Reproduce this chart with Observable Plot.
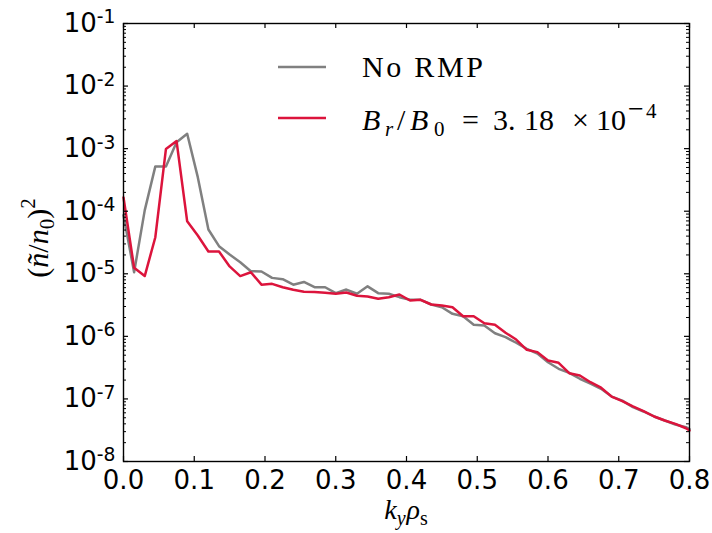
<!DOCTYPE html>
<html>
<head>
<meta charset="utf-8">
<script src="https://cdn.jsdelivr.net/npm/d3@7"></script>
<script src="https://cdn.jsdelivr.net/npm/@observablehq/plot@0.6"></script>
<style>
  html, body { margin: 0; padding: 0; background: #fff; }
  #chart { width: 712px; height: 533px; }
</style>
</head>
<body>
<div id="chart"></div>
<script>
// k_y rho_s sample positions
const ky = [0, 0.015, 0.03, 0.045, 0.06, 0.075, 0.09, 0.105, 0.12, 0.135, 0.15, 0.165, 0.18, 0.195,
  0.21, 0.225, 0.24, 0.255, 0.27, 0.285, 0.3, 0.315, 0.33, 0.345, 0.36, 0.375, 0.39, 0.405, 0.42,
  0.435, 0.45, 0.465, 0.48, 0.495, 0.51, 0.525, 0.54, 0.555, 0.57, 0.585, 0.6, 0.615, 0.63, 0.645,
  0.66, 0.675, 0.69, 0.705, 0.72, 0.735, 0.75, 0.765, 0.78, 0.795, 0.8];

// No RMP
const noRmp = [8.6e-5, 1.06e-5, 1.03e-4, 5.2e-4, 5.2e-4, 1.27e-3, 1.73e-3, 3.5e-4, 5.1e-5, 2.76e-5,
  2.03e-5, 1.53e-5, 1.10e-5, 1.09e-5, 8.6e-6, 8.2e-6, 6.7e-6, 7.4e-6, 6.1e-6, 6.1e-6,
  4.9e-6, 5.6e-6, 4.8e-6, 6.3e-6, 4.9e-6, 4.8e-6, 4.23e-6, 3.84e-6, 3.84e-6, 3.23e-6,
  2.92e-6, 2.29e-6, 2.10e-6, 1.53e-6, 1.49e-6, 1.12e-6, 9.7e-7, 7.9e-7, 6.3e-7, 5.3e-7,
  3.86e-7, 3.03e-7, 2.61e-7, 2.10e-7, 1.75e-7, 1.45e-7, 1.09e-7, 9.4e-8, 7.4e-8, 6.3e-8,
  5.24e-8, 4.52e-8, 3.90e-8, 3.53e-8, 3.30e-8];

// B_r/B_0 = 3.18e-4
const rmp = [1.66e-4, 1.25e-5, 9.2e-6, 3.84e-5, 9.9e-4, 1.32e-3, 6.9e-5, 4.1e-5, 2.27e-5, 2.27e-5,
  1.31e-5, 9.2e-6, 1.06e-5, 6.7e-6, 6.9e-6, 6.1e-6, 5.55e-6, 5.15e-6, 5.1e-6, 4.97e-6,
  4.79e-6, 5.02e-6, 4.45e-6, 4.34e-6, 3.98e-6, 4.23e-6, 4.67e-6, 3.74e-6, 3.84e-6, 3.23e-6,
  3.11e-6, 2.92e-6, 2.10e-6, 2.10e-6, 1.62e-6, 1.53e-6, 1.14e-6, 8.9e-7, 6.1e-7, 5.6e-7,
  4.11e-7, 3.78e-7, 2.58e-7, 2.37e-7, 1.85e-7, 1.51e-7, 1.09e-7, 9.2e-8, 7.6e-8, 6.4e-8,
  5.24e-8, 4.52e-8, 4.00e-8, 3.40e-8, 3.13e-8];

const xTicks = [0, 0.1, 0.2, 0.3, 0.4, 0.5, 0.6, 0.7, 0.8];
const yTicks = [1e-8, 1e-7, 1e-6, 1e-5, 1e-4, 1e-3, 1e-2, 1e-1];
const yMinor = [];
for (let e = -8; e < -1; e++) for (let m = 2; m <= 9; m++) yMinor.push(m * Math.pow(10, e));

const colors = { noRmp: "#808080", rmp: "#dc143c" };

const W = 712, H = 533, ML = 123, MR = 23, MT = 23, MB = 72;
const PW = W - ML - MR, PH = H - MT - MB;
const MAJ = 5, MIN = 3;

const rows = (vals) => ky.map((k, i) => ({ k, v: vals[i] }));

const chart = Plot.plot({
  width: W,
  height: H,
  marginLeft: ML,
  marginRight: MR,
  marginTop: MT,
  marginBottom: MB,
  style: { fontFamily: "DejaVu Sans", fontSize: "26px", color: "#000", background: "#fff" },
  x: { domain: [0, 0.8], label: null },
  y: { type: "log", domain: [1e-8, 1e-1], label: null },
  marks: [
    Plot.line(rows(noRmp), { x: "k", y: "v", stroke: colors.noRmp, strokeWidth: 2.5 }),
    Plot.line(rows(rmp), { x: "k", y: "v", stroke: colors.rmp, strokeWidth: 2.5 }),
    // inward ticks on all four sides
    Plot.tickX(xTicks, { x: d => d, insetTop: PH - MAJ, stroke: "#000", strokeWidth: 1.2 }),
    Plot.tickX(xTicks, { x: d => d, insetBottom: PH - MAJ, stroke: "#000", strokeWidth: 1.2 }),
    Plot.tickY(yTicks, { y: d => d, insetRight: PW - MAJ, stroke: "#000", strokeWidth: 1.2 }),
    Plot.tickY(yTicks, { y: d => d, insetLeft: PW - MAJ, stroke: "#000", strokeWidth: 1.2 }),
    Plot.tickY(yMinor, { y: d => d, insetRight: PW - MIN, stroke: "#000", strokeWidth: 1 }),
    Plot.tickY(yMinor, { y: d => d, insetLeft: PW - MIN, stroke: "#000", strokeWidth: 1 }),
    // tick labels
    Plot.axisX(xTicks, { anchor: "bottom", tickSize: 0, tickPadding: 9, tickFormat: d => d.toFixed(1), label: null }),
    Plot.axisY(yTicks, { anchor: "left", tickSize: 0, tickPadding: 8, tickFormat: d => "10^" + Math.round(Math.log10(d)), label: null }),
    Plot.frame({ stroke: "#000", strokeWidth: 1.4 })
  ]
});

document.getElementById("chart").appendChild(chart);

const svg = d3.select(chart);

// superscript exponents on the y tick labels
svg.selectAll('g[aria-label="y-axis tick label"] text').each(function () {
  const t = d3.select(this);
  const s = t.text();
  if (s.startsWith("10^")) {
    const exp = s.slice(3);
    t.text(null);
    t.append("tspan").text("10");
    t.append("tspan").attr("dy", "-0.45em").attr("font-size", "0.72em").text(exp);
  }
});

// axis titles (math style, serif)
const serif = "'Liberation Serif', 'DejaVu Serif', serif";
const xt = svg.append("text")
  .attr("x", 406).attr("y", 519)
  .attr("text-anchor", "middle")
  .attr("font-family", serif).attr("font-size", 28);
xt.append("tspan").attr("font-style", "italic").text("k");
xt.append("tspan").attr("font-style", "italic").attr("font-size", 20).attr("dy", 6).text("y");
xt.append("tspan").attr("font-style", "italic").attr("dy", -6).attr("dx", 1).text("ρ");
xt.append("tspan").attr("font-size", 20).attr("dy", 6).text("s");

const yt = svg.append("text")
  .attr("transform", "translate(48,238) rotate(-90)")
  .attr("text-anchor", "middle")
  .attr("font-family", serif).attr("font-size", 30);
yt.append("tspan").text("(");
yt.append("tspan").attr("font-style", "italic").text("ñ");
yt.append("tspan").text("/");
yt.append("tspan").attr("font-style", "italic").text("n");
yt.append("tspan").attr("font-size", 21).attr("dy", 6).text("0");
yt.append("tspan").attr("dy", -6).text(")");
yt.append("tspan").attr("font-size", 21).attr("dy", -13).text("2");

// legend
const legend = [
  { color: colors.noRmp, y: 67 },
  { color: colors.rmp, y: 118 }
];
const lg = svg.append("g").attr("aria-label", "legend");
legend.forEach(d => {
  lg.append("line").attr("x1", 278).attr("x2", 326).attr("y1", d.y).attr("y2", d.y)
    .attr("stroke", d.color).attr("stroke-width", 2.5);
});
lg.append("text").attr("x", 362).attr("y", 77).attr("text-anchor", "start")
  .attr("font-family", serif).attr("font-size", 30)
  .attr("textLength", 121).attr("lengthAdjust", "spacing").text("No RMP");
const l2 = lg.append("text").attr("y", 130).attr("text-anchor", "start")
  .attr("font-family", serif).attr("font-size", 30);
l2.append("tspan").attr("x", 362).attr("font-style", "italic").text("B");
l2.append("tspan").attr("x", 385).attr("font-style", "italic").attr("font-size", 21).attr("dy", 6).text("r");
l2.append("tspan").attr("x", 397).attr("dy", -6).text("/");
l2.append("tspan").attr("x", 410).attr("font-style", "italic").text("B");
l2.append("tspan").attr("x", 434).attr("font-size", 21).attr("dy", 6).text("0");
l2.append("tspan").attr("x", 462).attr("dy", -6).text("=");
l2.append("tspan").attr("x", 493).text("3.");
l2.append("tspan").attr("x", 524).text("18");
l2.append("tspan").attr("x", 572).text("×");
l2.append("tspan").attr("x", 596).text("10");
l2.append("tspan").attr("x", 628).attr("font-size", 28).attr("dy", -12).text("−");
l2.append("tspan").attr("x", 646).attr("font-size", 21).text("4");
</script>
</body>
</html>
